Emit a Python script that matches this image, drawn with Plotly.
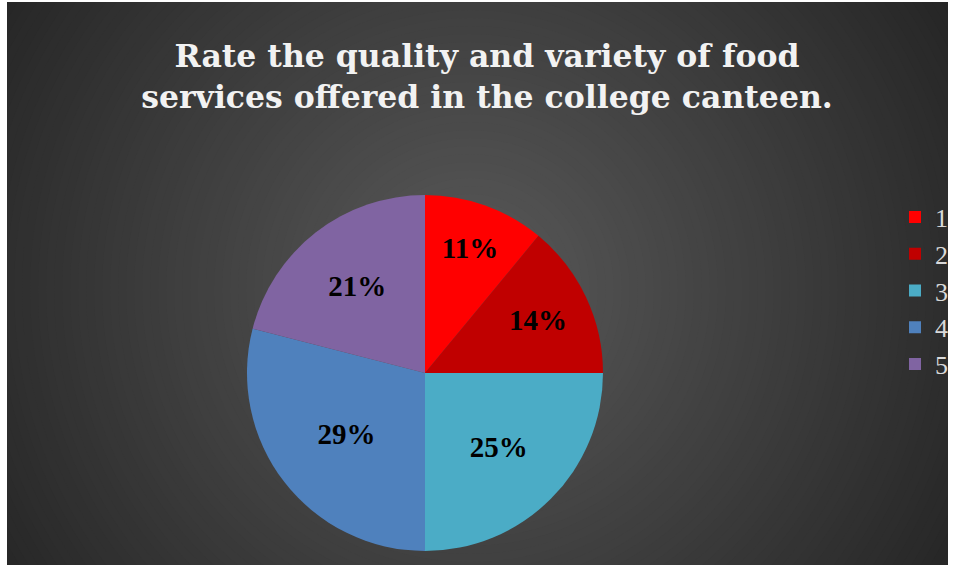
import plotly.graph_objects as go

# ---- data ----
categories = ["1", "2", "3", "4", "5"]
values = [11, 14, 25, 29, 21]
colors = ["#FF0000", "#C00000", "#4BACC6", "#4F81BD", "#8064A2"]
title_text = "Rate the quality and variety of food<br>services offered in the college canteen."

W, H = 956, 573
ml, mr, mt, mb = 7, 8, 2, 8
pw, ph = W - ml - mr, H - mt - mb

fig = go.Figure()

# invisible cartesian trace so the background shapes have axes to live on
fig.add_trace(go.Scatter(x=[], y=[], showlegend=False, hoverinfo="skip"))

fig.add_trace(go.Pie(
    labels=categories,
    values=values,
    sort=False,
    direction="clockwise",
    rotation=0,
    marker=dict(colors=colors, line=dict(width=0)),
    textinfo="percent",
    texttemplate="%{percent:.0%}",
    textposition="inside",
    insidetextorientation="horizontal",
    textfont=dict(family="Liberation Serif", size=29, color="#000000", weight="bold"),
    domain=dict(x=[(247 - ml) / pw, (603 - ml) / pw],
                y=[(H - mb - 551) / ph, (H - mb - 195) / ph]),
    showlegend=True,
))

# radial background (styling only): concentric circles, clipped to plot area
cx, cy = 470 - ml, (H - mb) - 290
n = 70
rmax = 560.0
c0 = (0x5A, 0x5A, 0x5A)
c1 = (0x26, 0x26, 0x26)
shapes = []
for i in range(n):
    t = 1 - i / n
    r = rmax * t
    col = tuple(int(round(c0[k] + (c1[k] - c0[k]) * t)) for k in range(3))
    shapes.append(dict(type="circle", xref="x", yref="y",
                       x0=cx - r, x1=cx + r, y0=cy - r, y1=cy + r,
                       fillcolor="rgb(%d,%d,%d)" % col, line=dict(width=0),
                       layer="below"))

fig.update_layout(
    width=W, height=H,
    margin=dict(l=ml, r=mr, t=mt, b=mb, autoexpand=False),
    paper_bgcolor="#FFFFFF",
    plot_bgcolor="#262626",
    shapes=shapes,
    xaxis=dict(range=[0, pw], visible=False, fixedrange=True),
    yaxis=dict(range=[0, ph], visible=False, fixedrange=True),
    title=dict(
        text=title_text,
        x=487 / W, xanchor="center", xref="container",
        y=1 - 67 / H, yanchor="top", yref="container",
        font=dict(family="DejaVu Serif", size=31.5, color="#F2F2F2", weight="bold"),
    ),
    legend=dict(
        x=(895 - ml) / pw, xanchor="left",
        y=(H - mb - 291) / ph, yanchor="middle",
        font=dict(family="Liberation Serif", size=26, color="#D9D9D9"),
        bgcolor="rgba(0,0,0,0)",
    ),
)

fig.write_html("out.html",
               config={"displayModeBar": False},
               post_script="document.body.style.margin='0';document.body.style.padding='0';")
